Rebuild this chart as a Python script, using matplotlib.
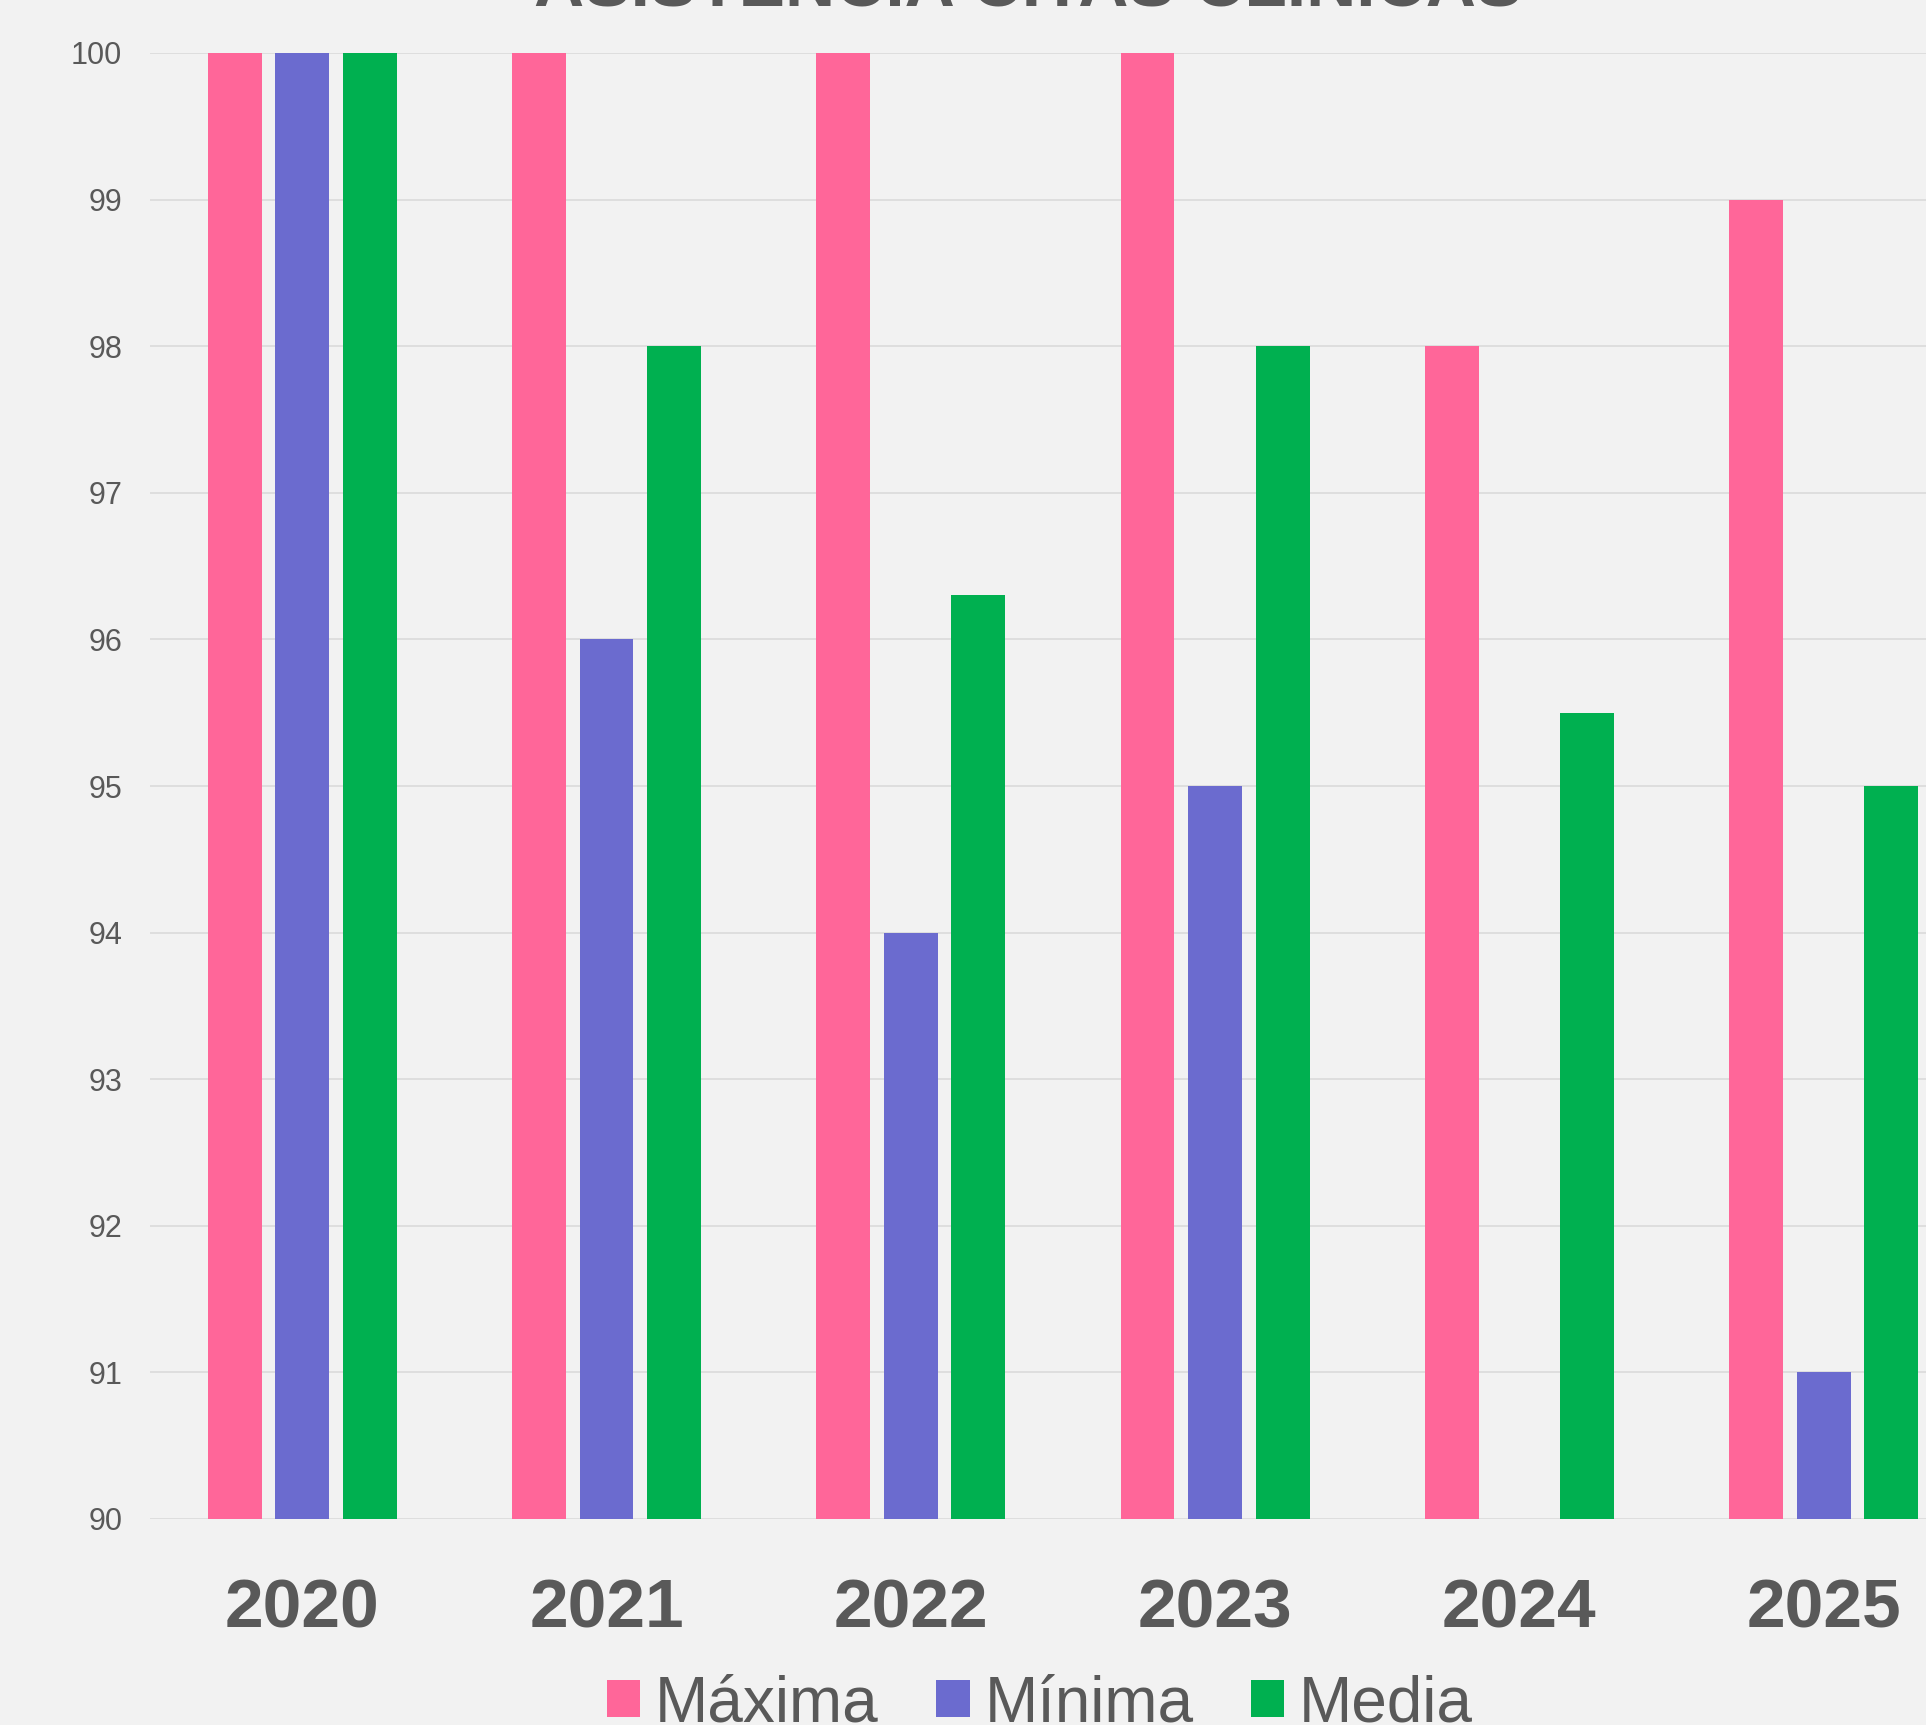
import numpy as np
import matplotlib.pyplot as plt

plt.rcParams["font.family"] = ["Liberation Sans", "DejaVu Sans"]

TEXT = "#595959"
BG = "#F2F2F2"
GRID = "#D9D9D9"

years = ["2020", "2021", "2022", "2023", "2024", "2025"]
maxima = [100, 100, 100, 100, 98, 99]
minima = [100, 96, 94, 95, np.nan, 91]
media = [100, 98, 96.3, 98, 95.5, 95]

series = [("Máxima", maxima, "#FF6699"),
          ("Mínima", minima, "#6B6BCF"),
          ("Media", media, "#00B050")]

fig = plt.figure(figsize=(19.26, 17.25), dpi=100, facecolor=BG)
ax = fig.add_axes([150 / 1926, 1 - 1519 / 1725, 1 - 150 / 1926, (1519 - 53) / 1725])
ax.set_facecolor(BG)

x = np.arange(len(years))
width = 0.177
step = 0.222
for i, (name, vals, color) in enumerate(series):
    ax.bar(x + (i - 1) * step, np.array(vals, dtype=float) - 90, width,
           bottom=90, color=color, label=name, zorder=3)

ax.set_xlim(-0.5, 5.336)
ax.set_ylim(90, 100)
ax.set_yticks(range(90, 101))
ax.yaxis.grid(True, color=GRID, linewidth=1.1, zorder=0)
ax.set_axisbelow(True)
for s in ax.spines.values():
    s.set_visible(False)

ax.set_xticks(x)
ax.set_xticklabels(years, fontsize=50, fontweight="bold", color=TEXT)
ax.tick_params(axis="x", length=0, pad=42)
ax.tick_params(axis="y", length=0, pad=20, labelsize=22, labelcolor=TEXT)

fig.text(1028 / 1926, 1 - 6 / 1725, "ASISTENCIA CITAS CLÍNICAS", ha="center",
         va="baseline", fontsize=50, fontweight="bold", color=TEXT)

fig.legend(loc="center", bbox_to_anchor=(1040 / 1926, 0.012), ncol=3, frameon=False,
           fontsize=46, labelcolor=TEXT, handlelength=0.52, handleheight=0.52,
           handletextpad=0.23, columnspacing=0.9, borderpad=0, borderaxespad=0)

fig.savefig("out.png", dpi=100, facecolor=BG)
